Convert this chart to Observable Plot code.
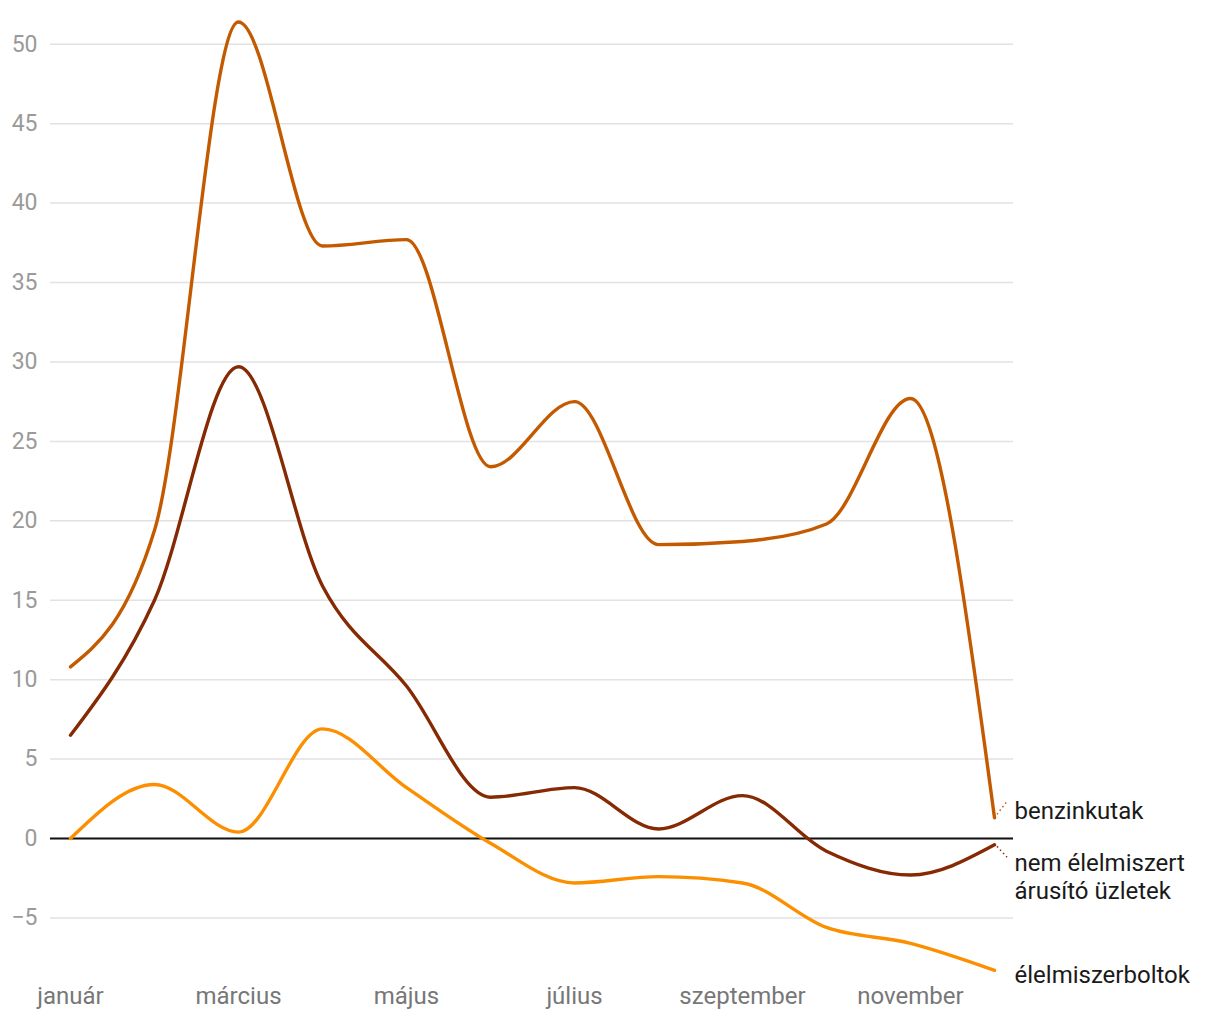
<!DOCTYPE html>
<html>
<head>
<meta charset="utf-8">
<script src="https://cdn.jsdelivr.net/npm/d3@7"></script>
<script src="https://cdn.jsdelivr.net/npm/@observablehq/plot@0.6"></script>
<style>
  html, body { margin: 0; padding: 0; background: #fff; }
  #chart { width: 1220px; height: 1020px; }
</style>
</head>
<body>
<div id="chart"></div>
<script>
const months = ["január", "február", "március", "április", "május", "június",
  "július", "augusztus", "szeptember", "október", "november", "december"];
const seriesNames = ["benzinkutak", "nem élelmiszert\nárusító üzletek", "élelmiszerboltok"];
const benzinkutak = [10.8, 19.4, 51.4, 37.3, 37.7, 23.4, 27.5, 18.5, 18.7, 19.8, 27.7, 1.3];
const nemElelmiszert = [6.5, 15.0, 29.7, 15.9, 9.6, 2.6, 3.2, 0.6, 2.7, -0.8, -2.3, -0.4];
const elelmiszerboltok = [0.0, 3.4, 0.4, 6.9, 3.2, -0.3, -2.8, -2.4, -2.8, -5.6, -6.6, -8.3];
const yTicks = [-5, 0, 5, 10, 15, 20, 25, 30, 35, 40, 45, 50];
const xTickLabels = ["január", "március", "május", "július", "szeptember", "november"];

const colors = ["#c45a00", "#862a04", "#fb8f00"];
const seriesValues = [benzinkutak, nemElelmiszert, elelmiszerboltok];
const data = seriesValues.flatMap((vals, s) =>
  vals.map((v, i) => ({series: seriesNames[s], month: months[i], value: v})));
const lastPoints = seriesNames.map((name, s) => ({
  series: name, month: months[months.length - 1], value: seriesValues[s][months.length - 1]
}));
// label pixel offsets (style only)
const labelDy = [-8, 31.5, 4];
const connector = [[3, -3, 13, -16], [3, 2, 13, 13], null];

const font = "Roboto, 'Noto Sans', sans-serif";

const connectorMark = (index, scales, values, dims, context) => {
  const g = d3.create("svg:g");
  lastPoints.forEach((p, s) => {
    const c = connector[s];
    if (!c) return;
    const x = scales.x(p.month), y = scales.y(p.value);
    g.append("line")
      .attr("x1", x + c[0]).attr("y1", y + c[1])
      .attr("x2", x + c[2]).attr("y2", y + c[3])
      .attr("stroke", colors[s]).attr("stroke-width", 1.5)
      .attr("stroke-dasharray", "1.5,3");
  });
  return g.node();
};

const chart = Plot.plot({
  width: 1220,
  height: 1020,
  marginLeft: 50,
  marginRight: 207,
  marginTop: 12,
  marginBottom: 47,
  style: {fontFamily: font, background: "#fff"},
  x: {type: "point", domain: months, padding: 0.21, label: null},
  y: {domain: [-8.5, 52], label: null},
  color: {domain: seriesNames, range: colors},
  marks: [
    Plot.gridY(yTicks, {stroke: "#e2e2e2", strokeOpacity: 1, strokeWidth: 1.5}),
    Plot.axisY(yTicks, {tickSize: 0, tickPadding: 13, fontSize: 23, fill: "#9a9a9a", textAnchor: "end", label: null}),
    Plot.axisX(xTickLabels, {tickSize: 0, tickPadding: 13, fontSize: 24, fill: "#777", label: null}),
    Plot.ruleY([0], {stroke: "#111", strokeWidth: 1.8}),
    Plot.line(data, {x: "month", y: "value", z: "series", stroke: "series",
      strokeWidth: 3.4, curve: "monotone-x"}),
    connectorMark,
    ...lastPoints.map((p, s) => Plot.text([p], {
      x: "month", y: "value", text: "series", textAnchor: "start",
      dx: 20, dy: labelDy[s], fontSize: 24, fill: "#1a1a1a", lineHeight: 1.13
    }))
  ]
});
document.getElementById("chart").appendChild(chart);
</script>
</body>
</html>
